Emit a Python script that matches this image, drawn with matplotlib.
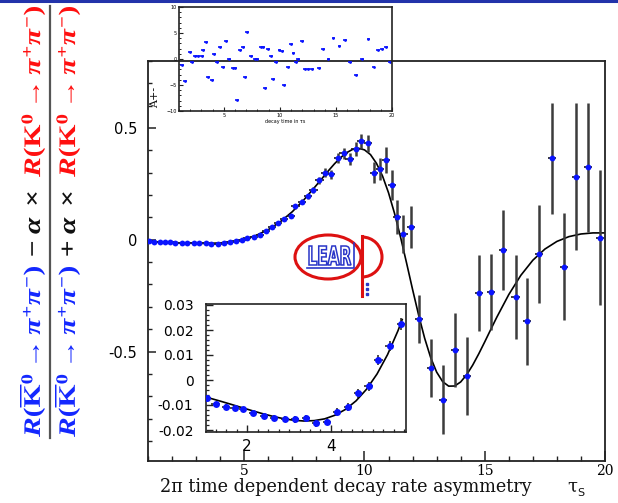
import matplotlib
matplotlib.use("Agg")
import matplotlib.pyplot as plt
from matplotlib.lines import Line2D
from matplotlib.patches import Ellipse, Arc, PathPatch
from matplotlib.textpath import TextPath
from matplotlib.font_manager import FontProperties
from matplotlib.transforms import IdentityTransform, Affine2D
from matplotlib.ticker import MultipleLocator, FixedLocator

plt.rcParams['mathtext.fontset'] = 'custom'
plt.rcParams['mathtext.rm'] = 'Liberation Serif:bold'
plt.rcParams['mathtext.it'] = 'Liberation Serif:italic:bold'
plt.rcParams['mathtext.bf'] = 'Liberation Serif:bold'

# ---- early decay times (shown in the zoomed inset and in the main panel) ----
early_t = [1.05, 1.25, 1.50, 1.70, 1.90, 2.14, 2.40, 2.64, 2.90, 3.14,
           3.40, 3.64, 3.90, 4.15, 4.41, 4.65, 4.90, 5.13, 5.40, 5.67]
early_a = [-0.0072, -0.0096, -0.0107, -0.0110, -0.0117, -0.0133, -0.0143, -0.0150, -0.0157, -0.0157,
           -0.0153, -0.0173, -0.0167, -0.0128, -0.0107, -0.0053, -0.0024, 0.0080, 0.0137, 0.0224]
early_err = [0.0010, 0.0010, 0.0010, 0.0011, 0.0011, 0.0011, 0.0012, 0.0012, 0.0012, 0.0013,
             0.0013, 0.0014, 0.0014, 0.0015, 0.0016, 0.0017, 0.0018, 0.0019, 0.0021, 0.0023]

# ---- later decay times ----
late_t = [5.92, 6.17, 6.42, 6.67, 6.94, 7.13, 7.40, 7.64, 7.88, 8.13,
          8.35, 8.61, 8.89, 9.13, 9.38, 9.63, 9.86, 10.14, 10.38, 10.63,
          10.88, 11.15, 11.36, 11.62, 11.92, 12.28, 12.76, 13.25, 13.76, 14.27,
          14.76, 15.26, 15.76, 16.28, 16.76, 17.26, 17.78, 18.28, 18.78, 19.28, 19.78]
late_a = [0.040, 0.058, 0.074, 0.094, 0.107, 0.149, 0.170, 0.194, 0.223, 0.267,
          0.301, 0.294, 0.365, 0.387, 0.361, 0.406, 0.440, 0.431, 0.301, 0.316,
          0.357, 0.244, 0.102, 0.025, 0.057, -0.355, -0.575, -0.715, -0.494, -0.611,
          -0.240, -0.234, -0.046, -0.256, -0.364, -0.065, 0.364, -0.120, 0.283, 0.324, 0.010]
late_err = [0.006, 0.007, 0.008, 0.009, 0.010, 0.011, 0.012, 0.013, 0.015, 0.016,
            0.018, 0.020, 0.022, 0.025, 0.028, 0.031, 0.035, 0.040, 0.045, 0.050,
            0.060, 0.067, 0.075, 0.085, 0.095, 0.108, 0.130, 0.155, 0.165, 0.175,
            0.170, 0.170, 0.180, 0.190, 0.195, 0.220, 0.250, 0.240, 0.330, 0.290, 0.300]

# ---- fitted asymmetry curve, main panel ----
fit_t = [1.0, 1.5, 2.0, 2.5, 3.0, 3.5, 4.0, 4.5, 5.0, 5.5, 6.0, 6.5, 7.0, 7.5, 8.0,
         8.5, 8.75, 9.0, 9.25, 9.5, 9.75, 10.0, 10.25, 10.5, 10.75, 11.0, 11.25, 11.5,
         11.75, 12.0, 12.25, 12.5, 12.75, 13.0, 13.25, 13.5, 13.75, 14.0, 14.25, 14.5,
         14.75, 15.0, 15.25, 15.5, 16.0, 16.5, 17.0, 17.5, 18.0, 18.5, 19.0, 19.5, 20.0]
fit_a = [-0.0072, -0.0096, -0.0122, -0.0145, -0.0161, -0.0163, -0.0141, -0.0083, 0.0024,
         0.0198, 0.0452, 0.0805, 0.1256, 0.1811, 0.2439, 0.3087, 0.3396, 0.3669, 0.3892,
         0.4041, 0.4094, 0.4024, 0.3811, 0.3418, 0.2854, 0.2103, 0.1180, 0.0117, -0.1038,
         -0.2225, -0.3363, -0.4399, -0.5265, -0.5921, -0.6348, -0.6550, -0.6544, -0.6362,
         -0.6037, -0.5608, -0.5107, -0.4569, -0.4015, -0.3469, -0.2452, -0.1592, -0.0915,
         -0.0417, -0.0074, 0.0141, 0.0259, 0.0307, 0.0307]

# ---- fitted curve, zoomed inset ----
zfit_t = [1.02, 1.10, 1.35, 1.60, 1.85, 2.10, 2.35, 2.60, 2.85, 3.10, 3.35,
          3.60, 3.85, 4.10, 4.35, 4.60, 4.85, 5.10, 5.35, 5.60, 5.70]
zfit_a = [-0.00685, -0.00722, -0.00840, -0.00964, -0.01091, -0.01217, -0.01338,
          -0.01448, -0.01541, -0.01608, -0.01640, -0.01625, -0.01554, -0.01406,
          -0.01173, -0.00832, -0.00367, 0.00243, 0.01016, 0.01976, 0.02420]

# ---- residual scan, small upper inset ----
scan_t = [1.24, 1.54, 1.98, 2.13, 2.43, 2.73, 3.03, 3.17, 3.41, 3.62, 3.92, 4.13, 4.42,
          4.66, 4.90, 5.20, 5.49, 5.79, 6.00, 6.15, 6.45, 6.69, 6.89, 7.10, 7.43, 7.79,
          7.99, 8.29, 8.47, 8.68, 8.97, 9.21, 9.42, 9.66, 9.96, 10.17, 10.38, 10.70,
          11.00, 11.21, 11.45, 11.65, 11.96, 12.25, 12.55, 12.85, 13.50, 13.83, 14.33,
          14.78, 15.31, 15.82, 16.27, 16.80, 17.31, 17.90, 18.35, 18.74, 19.10, 19.46, 19.84]
scan_a = [-1.15, -4.2, 1.4, -0.6, 0.64, 0.64, 0.64, 1.73, 3.2, -3.4, -4.0, 0.9, -0.64,
          2.36, -1.47, 3.46, -0.06, -1.79, -1.79, -7.9, 1.73, 2.36, -3.5, 5.24, 0.58, -0.06,
          -0.06, 2.36, 2.24, -5.6, 1.92, 0.58, -3.84, -0.51, 1.73, 1.54, -5.05, -1.47,
          2.88, 1.09, -0.64, 0.0, 3.46, -1.98, -1.98, -1.98, -1.79, 1.92, -0.06,
          4.1, 2.56, 3.65, -0.64, -3.07, 0.0, 3.78, -1.47, 1.73, 1.92, 2.24, -0.51]

main_xticks = [5, 10, 15, 20]
main_yticks = [-0.5, 0.0, 0.5]
main_ylabels = ['-0.5', '0', '0.5']
zoom_xticks = [2, 4]
zoom_yticks = [-0.02, -0.01, 0.0, 0.01, 0.02, 0.03]
zoom_ylabels = ['-0.02', '-0.01', '0', '0.01', '0.02', '0.03']

W, H = 618, 503
fig = plt.figure(figsize=(W / 100, H / 100), dpi=100)
fig.patch.set_facecolor('white')
PX = IdentityTransform()
BLUE = '#0a14ff'
FRAME = '#222222'


def rect(l, t, r, b):
    return [l / W, 1 - b / H, (r - l) / W, (b - t) / H]


def style_frame(a, lw=1.3):
    for s in a.spines.values():
        s.set_color(FRAME)
        s.set_linewidth(lw)


# ---------------- main panel ----------------
ax = fig.add_axes(rect(148, 61, 605, 461))
ax.plot(fit_t, fit_a, color='black', lw=1.2, zorder=2)
main_t = early_t + late_t
main_a = early_a + late_a
main_err = early_err + late_err
ax.errorbar(main_t, main_a, yerr=main_err, fmt='none', ecolor='#3c3c3c',
            elinewidth=1.8, zorder=3)
ax.errorbar(main_t, main_a, xerr=0.17, fmt='none', ecolor='#1a1a1a',
            elinewidth=1.2, zorder=3)
ax.plot(main_t, main_a, 'o', color=BLUE, ms=4.2, mec='none', zorder=4)
ax.set_xlim(1, 20)
ax.set_ylim(-0.99, 0.80)
ax.xaxis.set_major_locator(FixedLocator(main_xticks))
ax.xaxis.set_minor_locator(MultipleLocator(1))
ax.yaxis.set_major_locator(FixedLocator(main_yticks))
ax.set_yticklabels(main_ylabels)
ax.yaxis.set_minor_locator(MultipleLocator(0.1))
ax.tick_params(which='both', direction='in', top=False, right=False, color=FRAME)
ax.tick_params(axis='x', which='major', length=7, width=1.1, pad=2)
ax.tick_params(axis='x', which='minor', length=3.5, width=1.0)
ax.tick_params(axis='y', which='major', length=6, width=1.1, pad=8)
ax.tick_params(axis='y', which='minor', length=3, width=1.0)
for lab in ax.get_xticklabels():
    lab.set_fontfamily('DejaVu Serif')
    lab.set_fontsize(10)
for lab in ax.get_yticklabels():
    lab.set_fontfamily('DejaVu Sans')
    lab.set_fontsize(10.5)
style_frame(ax)

# ---------------- zoomed inset (early times) ----------------
ins = fig.add_axes(rect(206, 304, 406, 432))
ins.plot(zfit_t, zfit_a, color='black', lw=1.2, zorder=2)
ins.errorbar(early_t, early_a, yerr=early_err, xerr=0.1, fmt='none',
             ecolor='#1a1a1a', elinewidth=1.1, zorder=3)
ins.plot(early_t, early_a, 'o', color=BLUE, ms=5, mec='none', zorder=4)
ins.set_xlim(1.02, 5.79)
ins.set_ylim(-0.0208, 0.0304)
ins.xaxis.set_major_locator(FixedLocator(zoom_xticks))
ins.xaxis.set_minor_locator(MultipleLocator(0.25))
ins.yaxis.set_major_locator(FixedLocator(zoom_yticks))
ins.set_yticklabels(zoom_ylabels)
ins.yaxis.set_minor_locator(MultipleLocator(0.002))
ins.tick_params(which='both', direction='in', top=False, right=False, color=FRAME)
ins.tick_params(which='major', length=5, width=1.0)
ins.tick_params(which='minor', length=2.5, width=0.9)
ins.tick_params(axis='y', pad=9)
ins.tick_params(axis='x', pad=5)
for lab in ins.get_xticklabels():
    lab.set_fontfamily('DejaVu Sans')
    lab.set_fontsize(11)
for lab in ins.get_yticklabels():
    lab.set_fontfamily('DejaVu Sans')
    lab.set_fontsize(10)
style_frame(ins, 1.2)

# ---------------- small upper inset (residual scan) ----------------
top = fig.add_axes(rect(179, 7, 392, 111))
top.patch.set_alpha(0)
top.errorbar(scan_t, scan_a, xerr=0.17, fmt='o', color=BLUE, ms=2.0,
             mec='none', elinewidth=1.2)
top.set_xlim(1, 20)
top.set_ylim(-10, 10)
top.xaxis.set_major_locator(FixedLocator([5, 10, 15, 20]))
top.xaxis.set_minor_locator(MultipleLocator(1))
top.yaxis.set_major_locator(FixedLocator([-10, -5, 0, 5, 10]))
top.yaxis.set_minor_locator(MultipleLocator(1))
top.tick_params(which='both', direction='in', top=False, right=False,
                labelsize=3.5, pad=1.5, color=FRAME)
top.tick_params(which='major', length=3, width=0.8)
top.tick_params(which='minor', length=1.6, width=0.7)
top.set_xlabel('decay time in τs', fontsize=3.5, labelpad=1)
style_frame(top, 1.2)

# ---------------- axis captions ----------------
fig.text(346, H - 492, '2π time dependent decay rate asymmetry', transform=PX,
         ha='center', va='baseline', fontsize=12.7, family='DejaVu Serif', color='#111111')
fig.text(567, H - 492, 'τ', transform=PX, ha='left', va='baseline',
         fontsize=13, family='DejaVu Serif', color='#111111')
fig.text(577, H - 496, 'S', transform=PX, ha='left', va='baseline',
         fontsize=8, family='DejaVu Sans', color='#111111')
fig.text(155, H - 97, 'A+-', transform=PX, ha='center', va='center', rotation=90,
         fontsize=8, family='DejaVu Serif', color='#111111')

# ---------------- rotated ratio on the left ----------------
blue_r = r'$\mathit{R}(\overline{\mathrm{K}}^{0}\rightarrow\pi^{+}\pi^{-})$'
red_r = r'$\mathit{R}(\mathrm{K}^{0}\rightarrow\pi^{+}\pi^{-})$'
minus_op = r'$-\;\alpha\;\times$'
plus_op = r'$+\;\alpha\;\times$'
C_BLUE, C_RED, C_INK = '#1428ff', '#ff1010', '#111111'

paths = {k: TextPath((0, 0), s, size=20) for k, s in
         [('blue', blue_r), ('red', red_r), ('minus', minus_op), ('plus', plus_op)]}
bb_blue = paths['blue'].get_extents()
SX = 170.0 / bb_blue.width           # stretch along the reading direction
SY = 25.0 / bb_blue.height           # glyph height across the column


def run(key, color, right_edge, start):
    """Draw one text run rotated to read bottom-to-top, starting at display y=start."""
    tp = paths[key]
    bb = tp.get_extents()
    x_base = right_edge + bb_blue.y0 * SY
    tr = (Affine2D().translate(-bb.x0, 0).scale(SX, SY)
          .rotate_deg(90).translate(x_base, start))
    fig.add_artist(PathPatch(tr.transform_path(tp), fc=color, ec='none', transform=PX))
    return bb.width * SX


for right_edge, op in [(45, 'minus'), (80, 'plus')]:
    run('blue', C_BLUE, right_edge, H - 437)
    red_len = paths['red'].get_extents().width * SX
    run('red', C_RED, right_edge, H - 7 - red_len)
    op_len = paths[op].get_extents().width * SX
    run(op, C_INK, right_edge, H - 224 - op_len / 2)

fig.add_artist(Line2D([50, 50], [H - 6, H - 438], transform=PX, color='#555555', lw=1.6))

# ---------------- header rule ----------------
fig.add_artist(Line2D([0, W], [H - 1, H - 1], transform=PX, color='#2233aa', lw=2.2))

# ---------------- LEAR logo ----------------
red = '#dd1111'
fig.add_artist(Ellipse((328, H - 257), 66, 44, transform=PX, fill=False, ec=red, lw=2.2))
fig.add_artist(Line2D([362, 362], [H - 236, H - 296], transform=PX, color=red, lw=2.2))
fig.add_artist(Arc((362, H - 257), 40, 40, theta1=-90, theta2=90, transform=PX, ec=red, lw=2.2))
fp = FontProperties(family='DejaVu Sans', weight='bold')
tp = TextPath((0, 0), 'LEAR', size=10, prop=fp)
bb = tp.get_extents()
tr = Affine2D().translate(-bb.x0, -bb.y0).scale(42 / bb.width, 19 / bb.height).translate(309, H - 265)
fig.add_artist(PathPatch(tr.transform_path(tp), fc='white', ec='#2a36c8', lw=1.1, transform=PX))
fig.add_artist(Line2D([307, 354, 354], [H - 268, H - 268, H - 243], transform=PX, color='#2a36c8', lw=1.2))
fig.add_artist(Line2D([367, 367, 367], [H - 284, H - 289, H - 294], transform=PX, color='#2a36c8',
                      lw=0, marker='s', ms=1.5))

fig.savefig('out.png', dpi=100, facecolor='white')
